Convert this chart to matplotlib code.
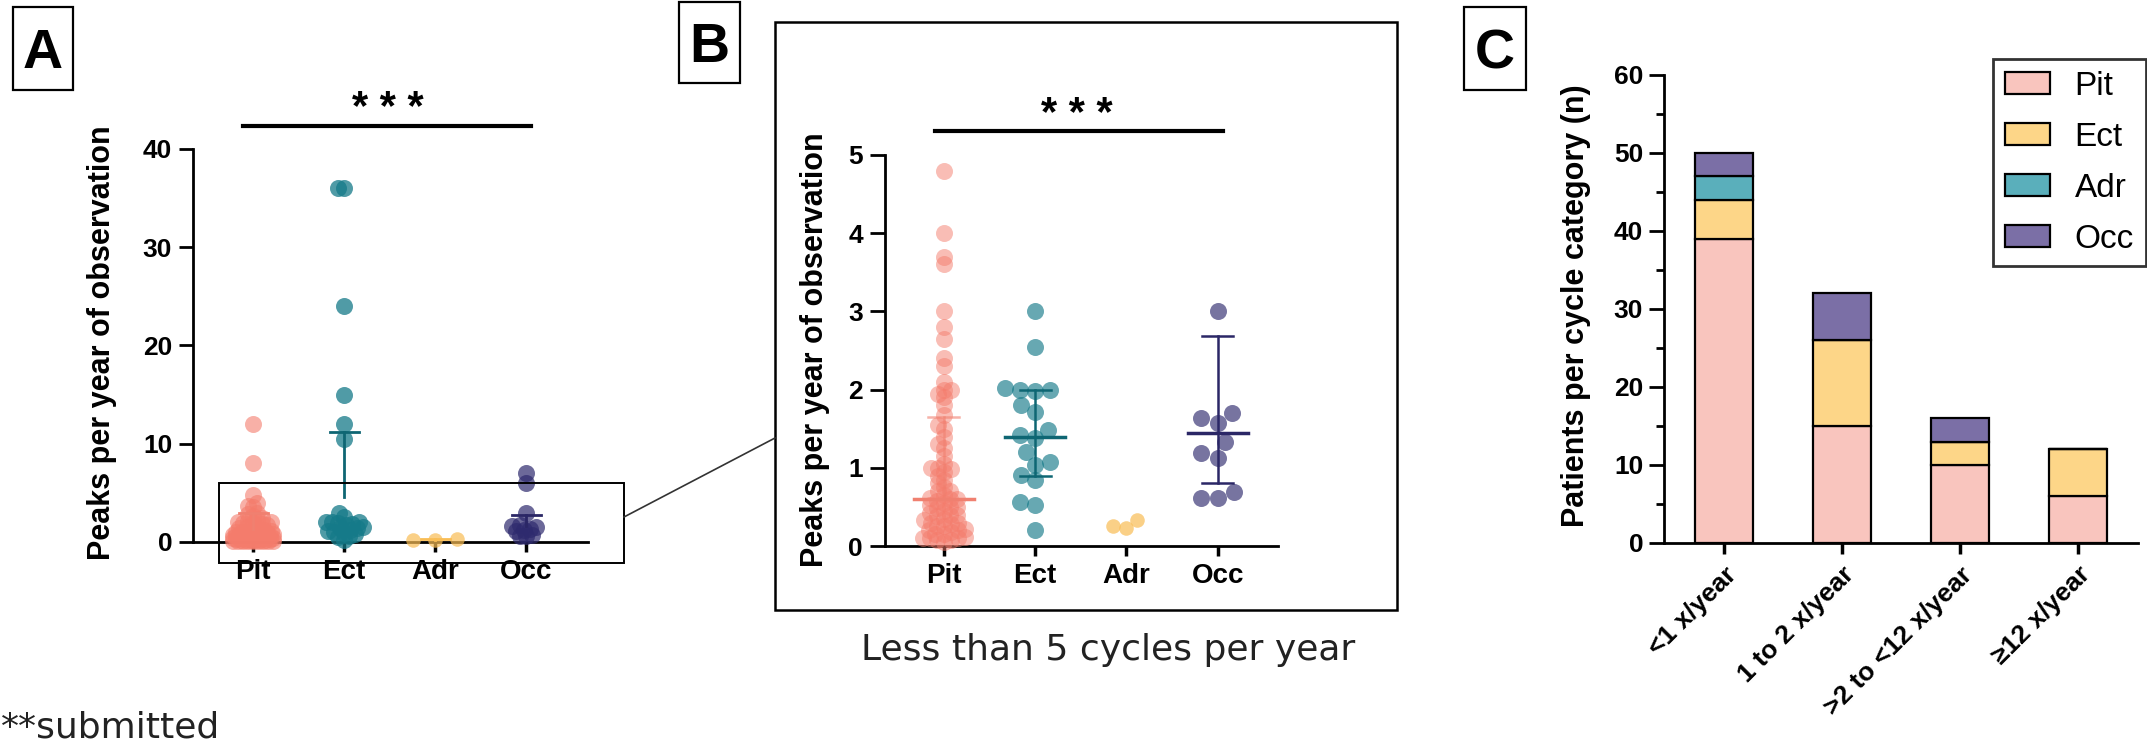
import numpy as np
import matplotlib
matplotlib.use('Agg')
import matplotlib.pyplot as plt
from matplotlib.patches import Rectangle
from matplotlib.lines import Line2D

plt.rcParams['font.family'] = ['Liberation Sans', 'DejaVu Sans']
plt.rcParams['font.weight'] = 'bold'
plt.rcParams['axes.labelweight'] = 'bold'

W, H = 2147, 747

# ---- data ----
groups = ['Pit', 'Ect', 'Adr', 'Occ']
pit_vals = [12.0, 8.0,
            4.8, 4.0, 3.7, 3.6, 3.0, 2.8, 2.65, 2.4, 2.3, 2.1, 2.0, 2.0, 1.95, 1.9,
            1.8, 1.68, 1.55, 1.5, 1.4, 1.3, 1.25, 1.15, 1.05, 1.0, 1.0, 0.98, 0.95,
            0.9, 0.85, 0.8, 0.75, 0.7, 0.7, 0.65, 0.62, 0.6, 0.6, 0.58, 0.55, 0.52,
            0.5, 0.5, 0.48, 0.45, 0.42, 0.4, 0.4, 0.38, 0.35, 0.33, 0.3, 0.3, 0.28,
            0.25, 0.25, 0.22, 0.2, 0.2, 0.18, 0.15, 0.15, 0.12, 0.1, 0.1, 0.1, 0.08,
            0.08, 0.05]
ect_vals = [36.0, 36.0, 24.0, 15.0, 12.0, 10.5,
            3.0, 2.55, 2.02, 2.0, 2.0, 1.98, 1.8, 1.71, 1.48, 1.42, 1.38, 1.2,
            1.07, 1.04, 0.91, 0.84, 0.56, 0.52, 0.2]
adr_vals = [0.23, 0.33, 0.25]
occ_vals = [7.0, 6.0,
            3.0, 1.70, 1.64, 1.57, 1.33, 1.19, 1.13, 0.69, 0.61, 0.61]

# error bars as drawn in panel A (mean -> upper)
a_mean = [1.3, 4.6, 0.25, 1.6]
a_upper = [2.9, 11.2, 0.3, 2.7]
# panel B summary lines
b_mean = [0.6, 1.4, np.nan, 1.45]
b_lower = [np.nan, 0.9, np.nan, 0.81]
b_upper = [1.65, 2.0, np.nan, 2.68]

cycle_cats = ['<1 x/year', '1 to 2 x/year', '>2 to <12 x/year', '≥12 x/year']
c_pit = [39, 15, 10, 6]
c_ect = [5, 11, 3, 6]
c_adr = [3, 0, 0, 0]
c_occ = [3, 6, 3, 0]

dot_colors = {'Pit': '#F47C6C', 'Ect': '#157A89', 'Adr': '#F9BD55', 'Occ': '#2E2A6E'}
alpha_A = {'Pit': 0.6, 'Ect': 0.75, 'Adr': 0.7, 'Occ': 0.7}
alpha_B = {'Pit': 0.5, 'Ect': 0.65, 'Adr': 0.7, 'Occ': 0.65}
line_colors = {'Pit': '#F08070', 'Ect': '#0E6673', 'Adr': '#F9BD55', 'Occ': '#2B2766'}
bar_colors = {'Pit': '#F9C5BE', 'Ect': '#FDD688', 'Adr': '#5AAFBB', 'Occ': '#7B6FA6'}


def rect(l, t, r, b):
    return [l / W, 1 - b / H, (r - l) / W, (b - t) / H]


def swarm(vals, px_y, d, maxw):
    # simple beeswarm in pixel space, returns x offsets in px
    vals = np.asarray(vals, float)
    cand = np.arange(-maxw, maxw + 1, 1.0)
    cand = cand[np.argsort(np.abs(cand), kind='stable')]
    xs = np.zeros(len(vals))
    placed = []
    for i in np.argsort(vals, kind='stable'):
        y = vals[i] * px_y
        best, best_score = 0.0, -1.0
        for c in cand:
            if placed:
                P = np.array(placed)
                dist = np.min(np.hypot(P[:, 0] - c, P[:, 1] - y))
            else:
                dist = np.inf
            if dist >= d:
                best = c
                break
            if dist > best_score:
                best_score, best = dist, c
        xs[i] = best
        placed.append((best, y))
    return xs


fig = plt.figure(figsize=(W / 100, H / 100), dpi=100)

all_vals = {'Pit': pit_vals, 'Ect': ect_vals, 'Adr': adr_vals, 'Occ': occ_vals}

# ---------------- panel A ----------------
axA = fig.add_axes(rect(193, 90, 588, 563.6))
axA.set_xlim(-0.66, 3.68)
axA.set_ylim(-2.2, 46)
dA = {'Pit': 5, 'Ect': 6, 'Adr': 22, 'Occ': 6}
wA = {'Pit': 20, 'Ect': 21, 'Adr': 24, 'Occ': 21}
for i, g in enumerate(groups):
    v = np.array(all_vals[g])
    off = swarm(v, 9.825, dA[g], wA[g]) / 91.0
    sz = 110 if g == 'Adr' else 150
    axA.scatter(i + off, v, s=sz, color=dot_colors[g], alpha=alpha_A[g],
                lw=0, zorder=3, clip_on=False)
    axA.plot([i, i], [a_mean[i], a_upper[i]], color=line_colors[g], lw=2, zorder=4)
    axA.plot([i - 0.16, i + 0.16], [a_upper[i]] * 2, color=line_colors[g], lw=2, zorder=4)

# ---------------- panel B ----------------
axB = fig.add_axes(rect(885, 84.6, 1278, 569.5))
axB.set_xlim(-0.646, 3.66)
axB.set_ylim(-0.3, 5.9)
dB = {'Pit': 7, 'Ect': 15, 'Adr': 13, 'Occ': 17}
wB = {'Pit': 22, 'Ect': 30, 'Adr': 26, 'Occ': 30}
for i, g in enumerate(groups):
    v = np.array(all_vals[g])
    v = v[v < 5]
    off = swarm(v, 78.2, dB[g], wB[g]) / 91.3
    sz = 110 if g == 'Adr' else 150
    axB.scatter(i + off, v, s=sz, color=dot_colors[g], alpha=alpha_B[g],
                lw=0, zorder=3, clip_on=False)
    lc = line_colors[g]
    if not np.isnan(b_mean[i]):
        axB.plot([i - 0.33, i + 0.33], [b_mean[i]] * 2, color=lc, lw=2.5, zorder=4)
    lo = b_lower[i] if not np.isnan(b_lower[i]) else b_mean[i]
    if not np.isnan(b_upper[i]):
        axB.plot([i, i], [lo, b_upper[i]], color=lc, lw=1.8, zorder=4,
                 alpha=0.6 if g == 'Pit' else 1)
        axB.plot([i - 0.17, i + 0.17], [b_upper[i]] * 2, color=lc, lw=1.8, zorder=4,
                 alpha=0.6 if g == 'Pit' else 1)
    if not np.isnan(b_lower[i]):
        axB.plot([i - 0.17, i + 0.17], [b_lower[i]] * 2, color=lc, lw=1.8, zorder=4)

for ax, top, ytks, tl in [(axA, 40, [0, 10, 20, 30, 40], 10), (axB, 5, [0, 1, 2, 3, 4, 5], 11)]:
    ax.spines[['top', 'right']].set_visible(False)
    ax.spines['left'].set_bounds(0, top)
    ax.spines['bottom'].set_position(('data', 0))
    ax.spines['left'].set_linewidth(2)
    ax.spines['bottom'].set_linewidth(2)
    ax.set_yticks(ytks)
    ax.set_xticks(range(4))
    ax.set_xticklabels(groups)
    ax.tick_params(axis='y', length=tl, width=2, pad=5, labelsize=19)
    ax.tick_params(axis='x', length=7, width=2.5, pad=5, labelsize=20)
    ax.patch.set_alpha(0)

# significance bars
axA.plot([-0.11, 3.05], [42.3, 42.3], color='black', lw=3, clip_on=False)
axA.text(1.48, 42.9, '* * *', ha='center', va='baseline', fontsize=30)
axB.plot([-0.1, 3.06], [5.31, 5.31], color='black', lw=3, clip_on=False)
axB.text(1.46, 5.37, '* * *', ha='center', va='baseline', fontsize=30)

# ---------------- panel C ----------------
axC = fig.add_axes(rect(1664, 75, 2138, 543))
x = np.arange(len(cycle_cats))
bottom = np.zeros(len(cycle_cats))
handles = []
for g, vals in zip(groups, [c_pit, c_ect, c_adr, c_occ]):
    b = axC.bar(x, vals, 0.49, bottom=bottom, color=bar_colors[g],
                edgecolor='black', lw=1.6, label=g, zorder=2)
    handles.append(b)
    bottom = bottom + np.array(vals)
axC.set_xlim(-0.51, 3.51)
axC.set_ylim(0, 60)
axC.set_yticks(range(0, 61, 10))
axC.set_yticks(range(5, 60, 10), minor=True)
axC.set_xticks(x)
axC.set_xticklabels(cycle_cats, rotation=45, ha='right', rotation_mode='anchor')
axC.spines[['top', 'right']].set_visible(False)
axC.spines['left'].set_linewidth(2)
axC.spines['bottom'].set_linewidth(2)
axC.tick_params(axis='y', which='major', length=11, width=2, pad=4, labelsize=19)
axC.tick_params(axis='y', which='minor', length=6, width=2)
axC.tick_params(axis='x', length=8, width=2.5, pad=6, labelsize=19)

leg = axC.legend(handles, groups, loc='upper left',
                 bbox_to_anchor=(1993 / W, 1 - 59 / H), bbox_transform=fig.transFigure,
                 frameon=True, fancybox=False, edgecolor='black',
                 prop={'weight': 'normal', 'size': 24},
                 handlelength=1.35, handleheight=0.66, handletextpad=0.75,
                 labelspacing=0.6, borderpad=0.35, borderaxespad=0)
leg.get_frame().set_linewidth(2)

# ---------------- annotations ----------------
def ftext(xp, yp, s, **kw):
    fig.text(xp / W, 1 - yp / H, s, **kw)


def fbox(l, t, r, b, lw):
    fig.add_artist(Rectangle((l / W, 1 - b / H), (r - l) / W, (b - t) / H,
                             transform=fig.transFigure, fill=False,
                             ec='black', lw=lw))


ftext(102, 343, 'Peaks per year of observation', rotation=90, ha='center', va='center', fontsize=22)
ftext(815, 350, 'Peaks per year of observation', rotation=90, ha='center', va='center', fontsize=22)
ftext(1576, 306, 'Patients per cycle category (n)', rotation=90, ha='center', va='center', fontsize=22)

# panel letters
for (l, t, r, b), s in [((13, 7, 73, 90), 'A'), ((679, 2, 740, 83), 'B'), ((1464, 7, 1526, 90), 'C')]:
    fbox(l, t, r, b, 1.6)
    ftext((l + r) / 2, (t + b) / 2 + 20, s, ha='center', va='baseline', fontsize=40)

# zoom box on A, B frame and connector
fbox(219, 483, 624, 563, 1.4)
fbox(775, 22, 1397, 610, 1.8)
fig.add_artist(Line2D([624 / W, 775 / W], [1 - 517 / H, 1 - 438 / H],
                      transform=fig.transFigure, color='#333333', lw=1.2))

ftext(1108, 660, 'Less than 5 cycles per year', ha='center', va='baseline',
      fontsize=26, family='DejaVu Sans', weight='normal', color='#222222')
ftext(1, 737, '**submitted', ha='left', va='baseline',
      fontsize=26, family='DejaVu Sans', weight='normal', color='#222222')

fig.savefig('out.png', dpi=100)
